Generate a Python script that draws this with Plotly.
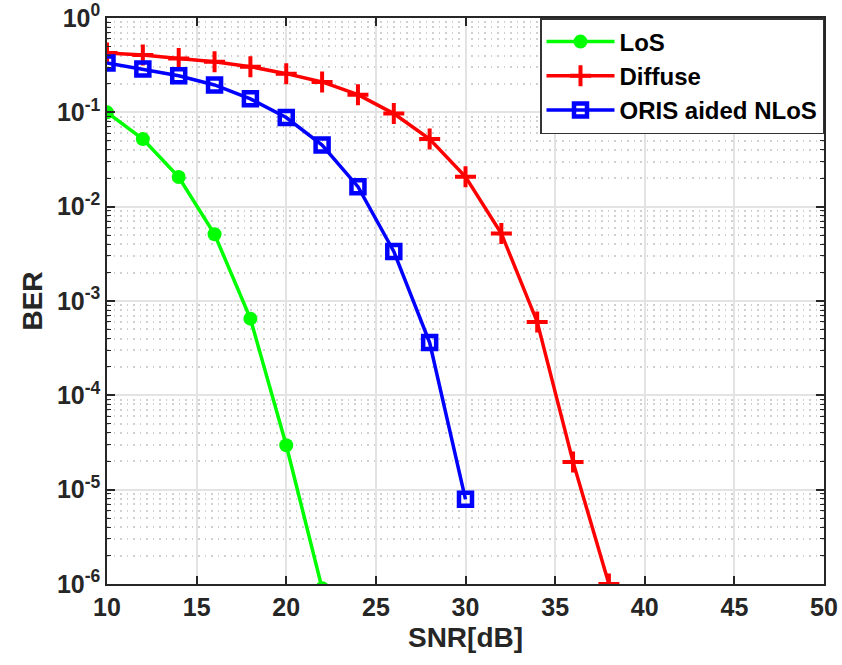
import plotly.graph_objects as go

snr_los = [10, 12, 14, 16, 18, 20, 22]
ber_los = [0.1, 0.052, 0.0206, 0.0051, 6.5e-4, 2.96e-5, 9e-7]

snr_diffuse = [10, 12, 14, 16, 18, 20, 22, 24, 26, 28, 30, 32, 34, 36, 38]
ber_diffuse = [0.425, 0.405, 0.373, 0.344, 0.305, 0.257, 0.21, 0.154, 0.097,
               0.052, 0.0207, 0.0052, 6.0e-4, 1.97e-5, 1.0e-6]

snr_oris = [10, 12, 14, 16, 18, 20, 22, 24, 26, 28, 30]
ber_oris = [0.333, 0.288, 0.244, 0.195, 0.139, 0.088, 0.045, 0.0163,
            0.00335, 3.63e-4, 7.9e-6]

x_ticks = [10, 15, 20, 25, 30, 35, 40, 45, 50]
y_exps = [0, -1, -2, -3, -4, -5, -6]
y_ticks = [10.0 ** e for e in y_exps]
y_ticktext = ["10<sup>%d</sup>" % e for e in y_exps]
y_minor = [k * 10.0 ** e for e in range(-6, 0) for k in range(2, 10)]

FONT = "Liberation Sans, Arial, sans-serif"
AX = "#262626"

fig = go.Figure()
fig.add_trace(go.Scatter(
    x=snr_los, y=ber_los, name="<b>LoS</b>", mode="lines+markers",
    line=dict(color="#00ff00", width=3.5),
    marker=dict(symbol="circle", size=14, color="#00ff00")))
fig.add_trace(go.Scatter(
    x=snr_diffuse, y=ber_diffuse, name="<b>Diffuse</b>", mode="lines+markers",
    line=dict(color="#ff0000", width=3.5),
    marker=dict(symbol="cross-thin", size=15, color="#ff0000",
                line=dict(color="#ff0000", width=4))))
fig.add_trace(go.Scatter(
    x=snr_oris, y=ber_oris, name="<b>ORIS aided NLoS</b>", mode="lines+markers",
    line=dict(color="#0000ff", width=3.5),
    marker=dict(symbol="square-open", size=13, color="#0000ff",
                line=dict(color="#0000ff", width=4.5))))

fig.update_layout(
    width=842, height=665,
    margin=dict(l=107, r=18, t=18, b=81),
    paper_bgcolor="white", plot_bgcolor="white",
    font=dict(family=FONT, color=AX, size=20),
    showlegend=True,
    legend=dict(x=1, y=1, xanchor="right", yanchor="top",
                bgcolor="white", bordercolor="#333333", borderwidth=1.5,
                font=dict(family=FONT, size=24, color="black"),
                tracegroupgap=0, itemwidth=68),
    xaxis=dict(
        range=[10, 50], tickvals=x_ticks,
        ticktext=["<b>%d</b>" % v for v in x_ticks],
        showline=True, linecolor=AX, linewidth=1.5, mirror="ticks",
        ticks="inside", ticklen=8, tickcolor=AX, tickwidth=1.5,
        showgrid=True, gridcolor="#e3e3e3", gridwidth=1.5,
        zeroline=False, automargin=False,
        tickfont=dict(family=FONT, size=25, color=AX),
        title=dict(text="<b>SNR[dB]</b>", font=dict(family=FONT, size=28, color=AX),
                   standoff=8),
    ),
    yaxis=dict(
        type="log", range=[-6, 0], tickvals=y_ticks,
        ticktext=["<b>%s</b>" % t for t in y_ticktext],
        showline=True, linecolor=AX, linewidth=1.5, mirror="ticks",
        ticks="inside", ticklen=8, tickcolor=AX, tickwidth=1.5,
        showgrid=True, gridcolor="#e3e3e3", gridwidth=1.5,
        zeroline=False, automargin=False,
        tickfont=dict(family=FONT, size=25, color=AX),
        title=dict(text="<b>BER</b>", font=dict(family=FONT, size=28, color=AX),
                   standoff=6),
        minor=dict(tickmode="array", tickvals=y_minor, ticks="inside",
                   ticklen=4, tickcolor=AX, tickwidth=1,
                   showgrid=True, gridcolor="#d0d0d0", griddash="1.5px,5px",
                   gridwidth=1.5),
    ),
)

fig.write_html("out.html",
               config={"displayModeBar": False},
               post_script="document.body.style.margin='0';"
                           "document.body.style.overflow='hidden';")
